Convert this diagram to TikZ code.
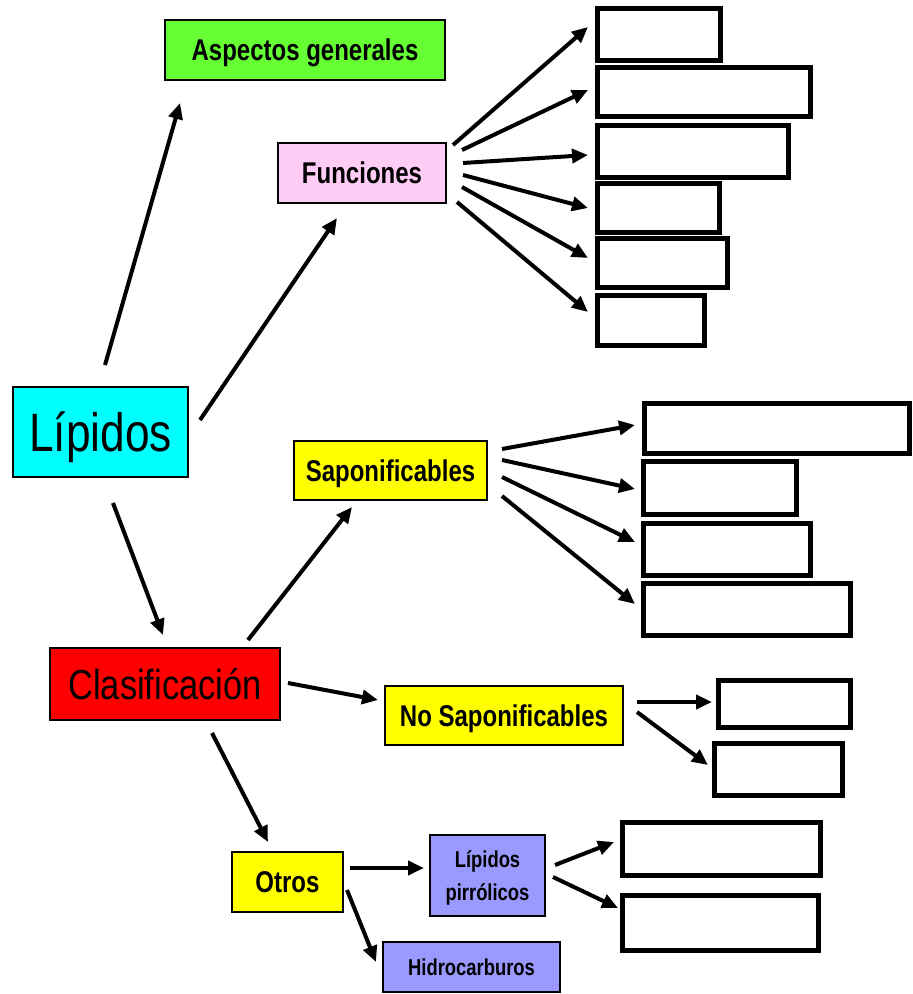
\documentclass[tikz,border=0pt]{standalone}
\usepackage{fontspec}
\setmainfont{Liberation Sans}[FakeStretch=0.82]
\newfontfamily\narrowsans{Liberation Sans}[FakeStretch=0.8]
\usetikzlibrary{arrows.meta}
\definecolor{cCyan}{HTML}{00FFFF}
\definecolor{cGreen}{HTML}{66FF33}
\definecolor{cPink}{HTML}{FFCCF5}
\definecolor{cRed}{HTML}{FF0000}
\definecolor{cYellow}{HTML}{FFFF00}
\definecolor{cLav}{HTML}{9999FF}
\tikzset{
  topic/.style={draw=black, line width=2.5pt, inner sep=0pt, align=center,
    text height=21.5pt, text depth=0pt,
    font=\narrowsans\bfseries\fontsize{30}{32}\selectfont},
  small/.style={topic, text height=16.5pt,
    font=\narrowsans\bfseries\fontsize{23}{33}\selectfont},
  blank/.style={draw=black, line width=5pt, fill=white, inner sep=0pt},
  arr/.style={line width=4pt, -{Triangle[length=16pt,width=14pt]}},
}
\newcommand{\bx}[5]{% name, center x, center y, width, height
  \node[blank, minimum width=#4pt, minimum height=#5pt] (#1) at (#2,#3) {};}
\begin{document}
\begin{tikzpicture}[x=1pt, y=-1pt]
\useasboundingbox (0,0) rectangle (913,994);

% main topics
\node[topic, fill=cCyan, minimum width=175pt, minimum height=90pt,
  text height=39pt, font=\fontsize{54}{56}\selectfont] (lip) at (100.5,432) {Lípidos};
\node[topic, fill=cGreen, minimum width=280pt, minimum height=60pt] (asp) at (305,50) {Aspectos generales};
\node[topic, fill=cPink, minimum width=168pt, minimum height=60pt] (fun) at (362,173) {Funciones};
\node[topic, fill=cRed, minimum width=230pt, minimum height=72pt,
  text height=30pt, font=\fontsize{42}{44}\selectfont] (cla) at (165,684) {Clasificación};
\node[topic, fill=cYellow, minimum width=193pt, minimum height=59pt] (sap) at (390.5,470.5) {Saponificables};
\node[topic, fill=cYellow, minimum width=238pt, minimum height=59pt] (nos) at (504,715.5) {No Saponificables};
\node[topic, fill=cYellow, minimum width=111pt, minimum height=60pt] (otr) at (287.5,882) {Otros};
\node[small, fill=cLav, minimum width=115pt, minimum height=81pt, text height=49.5pt] (pir) at (487.5,875.5) {Lípidos\\pirrólicos};
\node[small, fill=cLav, minimum width=177pt, minimum height=50pt] (hid) at (471.5,967) {Hidrocarburos};

% empty answer boxes
\bx{f1}{658.5}{34}{123}{52}
\bx{f2}{703.5}{91.5}{213}{49}
\bx{f3}{692.5}{151}{191}{52}
\bx{f4}{658}{207.5}{122}{49}
\bx{f5}{662}{262.5}{130}{49}
\bx{f6}{650.5}{320}{107}{50}
\bx{s1}{776.5}{428}{265}{50}
\bx{s2}{719.5}{487.5}{153}{53}
\bx{s3}{726.5}{549}{167}{52}
\bx{s4}{746.5}{609}{207}{52}
\bx{n1}{784}{703.5}{132}{47}
\bx{n2}{778}{769}{128}{52}
\bx{p1}{721}{848.5}{198}{53}
\bx{p2}{720}{922.5}{196}{55}

% connectors
\draw[arr] ([shift={(4.5,-67)}]lip.center) -- ([shift={(-125,53)}]asp.center);
\draw[arr] ([shift={(99.5,-12)}]lip.center) -- ([shift={(-25,45)}]fun.center);
\draw[arr] ([shift={(12.5,71)}]lip.center) -- ([shift={(-2,-49)}]cla.center);

\draw[arr] ([shift={(91,-28)}]fun.center) -- ([shift={(-70.5,-7)}]f1.center);
\draw[arr] ([shift={(100,-23)}]fun.center) -- ([shift={(-115.5,-1.5)}]f2.center);
\draw[arr] ([shift={(101,-10)}]fun.center) -- ([shift={(-104.5,4)}]f3.center);
\draw[arr] ([shift={(101,2)}]fun.center) -- ([shift={(-70,0.5)}]f4.center);
\draw[arr] ([shift={(100,14)}]fun.center) -- ([shift={(-74,-4.5)}]f5.center);
\draw[arr] ([shift={(95,29)}]fun.center) -- ([shift={(-62.5,-8)}]f6.center);

\draw[arr] ([shift={(83,-44)}]cla.center) -- ([shift={(-38.5,36.5)}]sap.center);
\draw[arr] ([shift={(111.5,-21.5)}]sap.center) -- ([shift={(-141.5,-3)}]s1.center);
\draw[arr] ([shift={(111.5,-10.5)}]sap.center) -- ([shift={(-84.5,1.5)}]s2.center);
\draw[arr] ([shift={(111.5,6.5)}]sap.center) -- ([shift={(-91.5,-7)}]s3.center);
\draw[arr] ([shift={(111.5,25.5)}]sap.center) -- ([shift={(-111.5,-5)}]s4.center);

\draw[arr] ([shift={(123,-1)}]cla.center) -- ([shift={(-126,-15.5)}]nos.center);
\draw[arr] ([shift={(47,49)}]cla.center) -- ([shift={(-19.5,-40)}]otr.center);
\draw[arr] ([shift={(133,-13.5)}]nos.center) -- ([shift={(-72,-1.5)}]n1.center);
\draw[arr] ([shift={(133,-3.5)}]nos.center) -- ([shift={(-70,-4)}]n2.center);

\draw[arr] ([shift={(62.5,-14)}]otr.center) -- ([shift={(-63.5,-7.5)}]pir.center);
\draw[arr] ([shift={(59.5,8)}]otr.center) -- ([shift={(-95.5,-5)}]hid.center);
\draw[arr] ([shift={(67.5,-10.5)}]pir.center) -- ([shift={(-107,-6.5)}]p1.center);
\draw[arr] ([shift={(65.5,1.5)}]pir.center) -- ([shift={(-102,-14.5)}]p2.center);
\end{tikzpicture}
\end{document}
